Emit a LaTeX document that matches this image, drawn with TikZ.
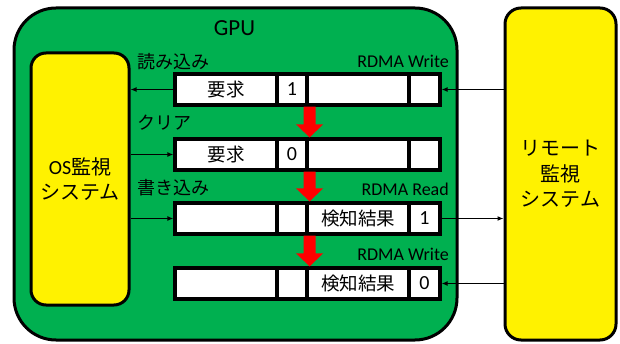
\documentclass[tikz,border=0pt]{standalone}
\usepackage{fontspec}
\setmainfont{Carlito}
\newfontfamily\jp{Noto Sans CJK JP}
\usetikzlibrary{arrows.meta,calc}
\definecolor{gpugreen}{RGB}{0,176,80}
\begin{document}
\begin{tikzpicture}[x=1pt,y=-1pt,
  bigbox/.style={draw, line width=3pt, inner sep=0pt},
  cell/.style={draw, line width=3.2pt, fill=white, minimum height=31pt, inner sep=0pt, font=\fontsize{18.5}{20}\selectfont},
  cellwide/.style={cell, minimum width=102pt},
  cellnarrow/.style={cell, minimum width=30pt, font=\fontsize{20}{22}\selectfont},
  lbl/.style={inner sep=0pt, font=\fontsize{18}{20}\selectfont},
  conn/.style={line width=1.5pt, -{Latex[length=6pt,width=5pt]}},
  redarrow/.style={fill=red}
]
\useasboundingbox (0,0) rectangle (620,344);
% GPU
\node[bigbox, fill=gpugreen, rounded corners=42pt, minimum width=443pt, minimum height=332pt] (gpu) at (235.5,174) {};
\node[inner sep=0pt, font=\fontsize{23}{26}\selectfont] (gputxt) at (234.5,28.5) {GPU};
% OS system
\node[bigbox, fill=yellow, rounded corners=15pt, minimum width=98pt, minimum height=252pt, align=center, font=\fontsize{20}{25.5}\selectfont] (os) at (80,179) {OS{\jp 監視}\\{\jp システム}};
% Remote system
\node[bigbox, fill=yellow, rounded corners=16pt, minimum width=111pt, minimum height=332pt, align=center, font=\fontsize{20}{25.5}\selectfont] (rem) at (560.5,174) {{\jp リモート}\\{\jp 監視}\\{\jp システム}};
% rows
\node[cellwide] (r1a) at (226,89.5) {\jp 要求};
\node[cellnarrow] (r1b) at (292,89.5) {1};
\node[cellwide] (r1c) at (358,89.5) {};
\node[cellnarrow, minimum width=31pt] (r1d) at (424.5,89.5) {};
\node[cellwide] (r2a) at (226,154.5) {\jp 要求};
\node[cellnarrow] (r2b) at (292,154.5) {0};
\node[cellwide] (r2c) at (358,154.5) {};
\node[cellnarrow, minimum width=31pt] (r2d) at (424.5,154.5) {};
\node[cellwide] (r3a) at (226,218.5) {};
\node[cellnarrow] (r3b) at (292,218.5) {};
\node[cellwide] (r3c) at (358,218.5) {\jp 検知結果};
\node[cellnarrow, minimum width=31pt] (r3d) at (424.5,218.5) {1};
\node[cellwide] (r4a) at (226,283.5) {};
\node[cellnarrow] (r4b) at (292,283.5) {};
\node[cellwide] (r4c) at (358,283.5) {\jp 検知結果};
\node[cellnarrow, minimum width=31pt] (r4d) at (424.5,283.5) {0};
% red arrows
\foreach \u/\l in {r1b/r2b, r2b/r3b, r3b/r4b}{
  \fill[redarrow] let \p1=(\u.south east), \p2=(\l.north east) in
    (\x1-5pt,\y1) -- (\x1+7pt,\y1) -- (\x1+7pt,\y2+13pt) -- (\x1+14.5pt,\y2+13pt)
    -- (\x1+1pt,\y2) -- (\x1-12.5pt,\y2+13pt) -- (\x1-5pt,\y2+13pt) -- cycle;
}
% labels
\node[lbl, anchor=west] (l1) at (137,61.5) {\jp 読み込み};
\node[lbl, anchor=west] (l2) at (137,123) {\jp クリア};
\node[lbl, anchor=west] (l3) at (137,188) {\jp 書き込み};
\node[lbl, anchor=east] (w1) at (449,61.5) {RDMA Write};
\node[lbl, anchor=east] (rr) at (449,189) {RDMA Read};
\node[lbl, anchor=east] (w2) at (449,254) {RDMA Write};
% connectors
\draw[conn] (r1a.west) -- (r1a.west -| os.east);
\draw[conn] (r2a.west -| os.east) -- (r2a.west);
\draw[conn] (r3a.west -| os.east) -- (r3a.west);
\draw[conn] (r1d.east -| rem.west) -- (r1d.east);
\draw[conn] (r3d.east) -- (r3d.east -| rem.west);
\draw[conn] (r4d.east -| rem.west) -- (r4d.east);
\end{tikzpicture}
\end{document}
